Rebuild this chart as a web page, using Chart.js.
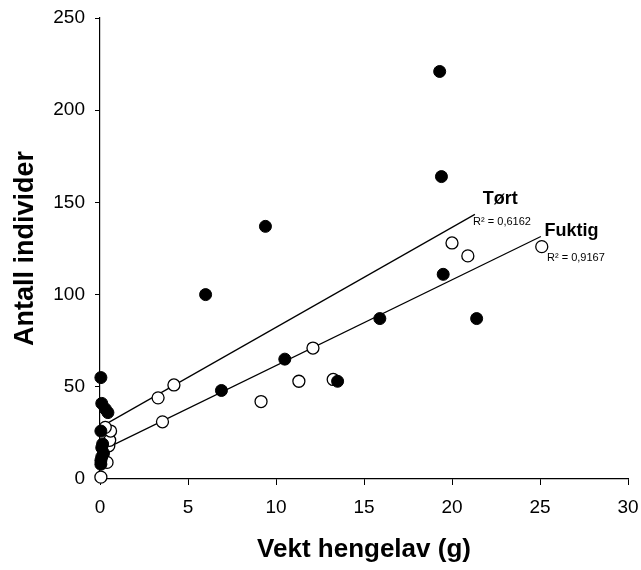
<!DOCTYPE html>
<html>
<head>
<meta charset="utf-8">
<script src="https://cdn.jsdelivr.net/npm/chart.js@4"></script>
<style>
    body { margin: 0; background: #fff; }
</style>
</head>
<body>
<canvas id="myChart" width="641" height="570"></canvas>
<script>
// Tørt (filled circles)
const tortX = [0.05, 0.1, 0.3, 0.45, 0.05, 0.15, 0.1, 0.2, 0.1, 0.05, 0.05, 6.0, 6.9, 9.4, 10.5, 13.5, 15.9, 19.3, 19.4, 19.5, 21.4];
const tortY = [55, 41, 38, 36, 26, 19, 17, 14, 12, 10, 8, 100, 48, 137, 65, 53, 87, 221, 164, 111, 87];

// Fuktig (open circles)
const fuktigX = [0.05, 0.4, 0.5, 0.55, 0.6, 0.3, 3.3, 3.55, 4.2, 9.15, 11.3, 12.1, 13.25, 20.0, 20.9, 25.1];
const fuktigY = [1, 9, 18, 21, 26, 28, 44, 31, 51, 42, 53, 71, 54, 128, 121, 126];

// regression lines
const tortLineX = [0, 21.3];
const tortLineY = [28, 143.5];
const fuktigLineX = [0, 25.05];
const fuktigLineY = [15, 131.5];

const xTicks = [0, 5, 10, 15, 20, 25, 30];
const yTicks = [0, 50, 100, 150, 200, 250];

const tortR2 = "R² = 0,6162";
const fuktigR2 = "R² = 0,9167";

const FONT = 'Arial, "Liberation Sans", sans-serif';

function toPoints(xs, ys) {
    return xs.map((x, i) => ({ x: x, y: ys[i] }));
}

// text next to the trend lines
const lineLabels = {
    id: "lineLabels",
    afterDatasetsDraw(chart) {
        const ctx = chart.ctx;
        const x = chart.scales.x;
        const y = chart.scales.y;
        ctx.save();
        ctx.fillStyle = "#000";
        ctx.textAlign = "left";
        ctx.textBaseline = "alphabetic";

        ctx.font = "bold 18px " + FONT;
        ctx.fillText("Tørt", x.getPixelForValue(21.75), y.getPixelForValue(149));
        ctx.fillText("Fuktig", x.getPixelForValue(25.25), y.getPixelForValue(132));

        ctx.font = "11px " + FONT;
        ctx.fillText(tortR2, x.getPixelForValue(21.2), y.getPixelForValue(138));
        ctx.fillText(fuktigR2, x.getPixelForValue(25.4), y.getPixelForValue(118));
        ctx.restore();
    },
};

new Chart("myChart", {
    type: "scatter",
    data: {
        datasets: [
            {
                label: "Tørt",
                data: toPoints(tortX, tortY),
                backgroundColor: "#000",
                borderColor: "#000",
                borderWidth: 1,
                pointRadius: 6,
                clip: false,
                order: 0,
            },
            {
                label: "Fuktig",
                data: toPoints(fuktigX, fuktigY),
                backgroundColor: "#fff",
                borderColor: "#000",
                borderWidth: 1.3,
                pointRadius: 6,
                clip: false,
                order: 1,
            },
            {
                label: "Tørt trend",
                type: "line",
                data: toPoints(tortLineX, tortLineY),
                borderColor: "#000",
                borderWidth: 1.2,
                pointRadius: 0,
                fill: false,
                clip: false,
                order: 2,
            },
            {
                label: "Fuktig trend",
                type: "line",
                data: toPoints(fuktigLineX, fuktigLineY),
                borderColor: "#000",
                borderWidth: 1.2,
                pointRadius: 0,
                fill: false,
                clip: false,
                order: 3,
            },
        ],
    },
    options: {
        responsive: false,
        animation: false,
        devicePixelRatio: 1,
        layout: {
            padding: { top: 18, right: 13, bottom: 0, left: 0 },
        },
        plugins: {
            legend: { display: false },
            tooltip: { enabled: false },
        },
        scales: {
            x: {
                type: "linear",
                min: 0,
                max: 30,
                afterBuildTicks: (scale) => {
                    scale.ticks = xTicks.map((v) => ({ value: v }));
                },
                afterFit: (scale) => {
                    scale.height = 91;
                    scale.paddingLeft = 0;
                    scale.paddingRight = 0;
                },
                ticks: {
                    color: "#000",
                    font: { family: FONT, size: 19 },
                    padding: 11,
                    maxRotation: 0,
                },
                grid: {
                    drawOnChartArea: false,
                    color: "#000",
                    tickLength: 6,
                },
                border: { color: "#000", width: 1.2 },
                title: {
                    display: true,
                    text: "Vekt hengelav (g)",
                    color: "#000",
                    font: { family: FONT, size: 26, weight: "bold" },
                    padding: { top: 0, bottom: 5 },
                },
            },
            y: {
                type: "linear",
                min: 0,
                max: 250,
                afterBuildTicks: (scale) => {
                    scale.ticks = yTicks.map((v) => ({ value: v }));
                },
                afterFit: (scale) => {
                    scale.width = 100;
                    scale.paddingTop = 0;
                    scale.paddingBottom = 0;
                },
                ticks: {
                    color: "#000",
                    font: { family: FONT, size: 19 },
                    padding: 10,
                },
                grid: {
                    drawOnChartArea: false,
                    color: "#000",
                    tickLength: 5,
                },
                border: { color: "#000", width: 1.2 },
                title: {
                    display: true,
                    text: "Antall individer",
                    color: "#000",
                    font: { family: FONT, size: 27, weight: "bold" },
                    padding: { top: 9, bottom: 0 },
                },
            },
        },
    },
    plugins: [lineLabels],
});
</script>
</body>
</html>
